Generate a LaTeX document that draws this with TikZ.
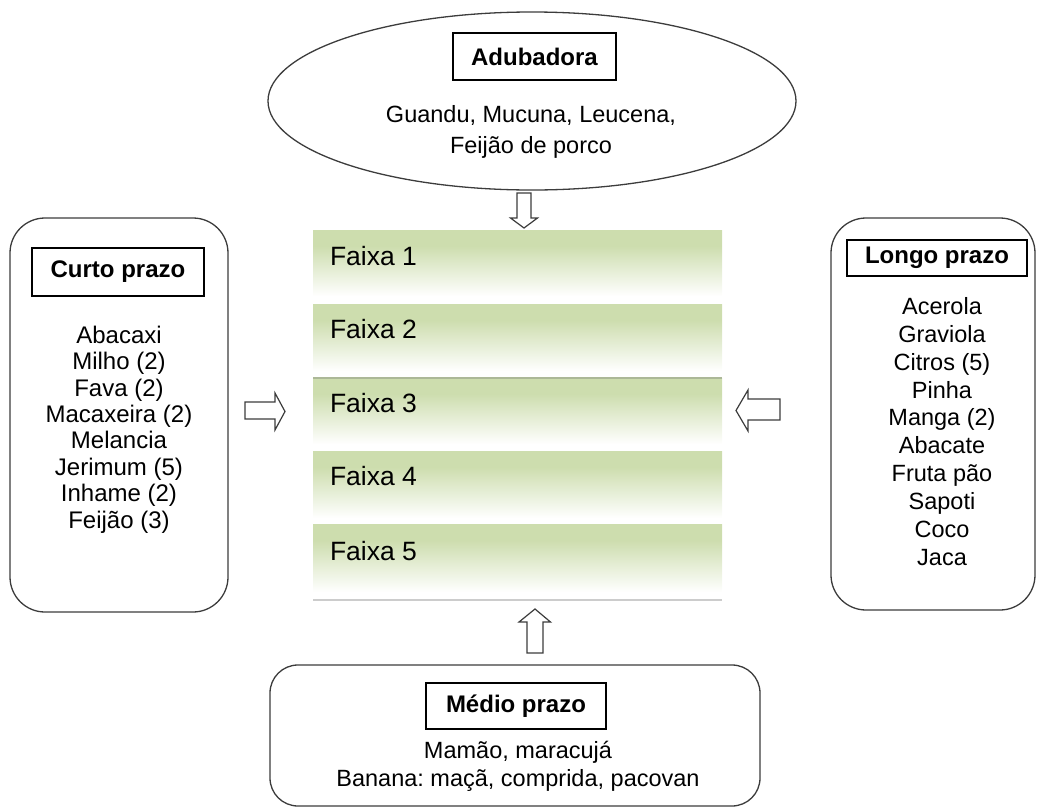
\documentclass[tikz,border=0pt]{standalone}
\usepackage{fontspec}
\setmainfont{Liberation Sans}
\usetikzlibrary{shapes.geometric}
\definecolor{bandgreen}{RGB}{205,221,174}
\definecolor{bandline}{RGB}{172,184,152}
\definecolor{outline}{RGB}{60,60,60}
\pgfdeclareverticalshading{bandshade}{100bp}{color(0bp)=(white); color(25bp)=(white); color(29bp)=(white); color(64bp)=(bandgreen); color(75bp)=(bandgreen); color(100bp)=(bandgreen)}
\frenchspacing
\begin{document}
\begin{tikzpicture}[x=1pt,y=-1pt,
  every node/.style={inner sep=0pt, outer sep=0pt},
  container/.style={draw=outline, line width=1.3pt, rounded corners=35pt},
  titlebox/.style={draw=black, line width=1.2pt, font=\fontsize{24}{28}\selectfont\bfseries},
  listtext/.style={align=center},
  bandbox/.style={anchor=north west, minimum width=409pt, shade, shading=bandshade},
  faixatext/.style={anchor=base west, font=\fontsize{26.5}{30}\selectfont},
  blockarr/.style={draw=outline, line width=1.2pt, fill=white, line join=miter}
]
\useasboundingbox (0,0) rectangle (1037,809);

% containers
\node[draw=outline, line width=1.3pt, ellipse, minimum width=528pt, minimum height=178pt] (adub) at (532,101) {};
\node[container, minimum width=218pt, minimum height=394pt] (curto) at (119,415) {};
\node[container, minimum width=204pt, minimum height=392pt] (longo) at (933,414) {};
\node[container, rounded corners=28pt, minimum width=490pt, minimum height=141pt] (medio) at (515,735.5) {};

% title boxes
\node[titlebox, minimum width=163pt, minimum height=47pt] (adubT) at (534.5,56.5) {Adubadora};
\node[titlebox, minimum width=172pt, minimum height=48pt] (curtoT) at (118,272) {Curto prazo};
\node[titlebox, minimum width=180pt, minimum height=36pt] (longoT) at (937,258) {Longo prazo};
\node[titlebox, minimum width=180pt, minimum height=46pt] (medioT) at (516,706) {Médio prazo};

% lists
\node[listtext, font=\fontsize{23.5}{31}\selectfont] (adubL) at (531,131.5) {Guandu, Mucuna, Leucena,\\Feijão de porco};
\node[listtext, font=\fontsize{24}{26.4}\selectfont] (curtoL) at (119,429.5) {Abacaxi\\Milho (2)\\Fava (2)\\Macaxeira (2)\\Melancia\\Jerimum (5)\\Inhame (2)\\Feijão (3)};
\node[listtext, font=\fontsize{23.5}{27.9}\selectfont] (longoL) at (942,431.5) {Acerola\\Graviola\\Citros (5)\\Pinha\\Manga (2)\\Abacate\\Fruta pão\\Sapoti\\Coco\\Jaca};
\node[listtext, font=\fontsize{23.5}{28}\selectfont] (medioL) at (518,766) {Mamão, maracujá\\Banana: maçã, comprida, pacovan};

% bands
\node[bandbox, minimum height=72pt] (f1) at (313,230) {};
\node[bandbox, minimum height=73pt] (f2) at (313,304) {};
\node[bandbox, minimum height=72pt] (f3) at (313,378) {};
\node[bandbox, minimum height=73pt] (f4) at (313,451) {};
\node[bandbox, minimum height=74pt] (f5) at (313,524) {};
\draw[bandline, line width=2pt] (f3.north west) -- (f3.north east);
\draw[black!20, line width=2pt] ([yshift=-2pt]f5.south west) -- ([yshift=-2pt]f5.south east);
\node[faixatext] (t1) at (330,265) {Faixa 1};
\node[faixatext] (t2) at (330,338) {Faixa 2};
\node[faixatext] (t3) at (330,412) {Faixa 3};
\node[faixatext] (t4) at (330,485) {Faixa 4};
\node[faixatext] (t5) at (330,560) {Faixa 5};

% block arrows
\draw[blockarr] ([xshift=-15pt,yshift=-3pt]adub.south) -- ++(14,0) -- ++(0,25) -- ++(6.5,0) -- ++(-13.5,10) -- ++(-13.5,-10) -- ++(6.5,0) -- cycle;
\draw[blockarr] ([xshift=17pt,yshift=13pt]curto.east) -- ++(30,0) -- ++(0,-9) -- ++(10,18.5) -- ++(-10,18.5) -- ++(0,-11) -- ++(-30,0) -- cycle;
\draw[blockarr] ([xshift=-51pt,yshift=15pt]longo.west) -- ++(-32,0) -- ++(0,-9) -- ++(-12,20.5) -- ++(12,20.5) -- ++(0,-11) -- ++(32,0) -- cycle;
\draw[blockarr] ([xshift=12pt,yshift=12pt]medio.north) -- ++(0,-31) -- ++(-8,0) -- ++(16,-13) -- ++(15.5,13) -- ++(-7.5,0) -- ++(0,31) -- cycle;
\end{tikzpicture}
\end{document}
